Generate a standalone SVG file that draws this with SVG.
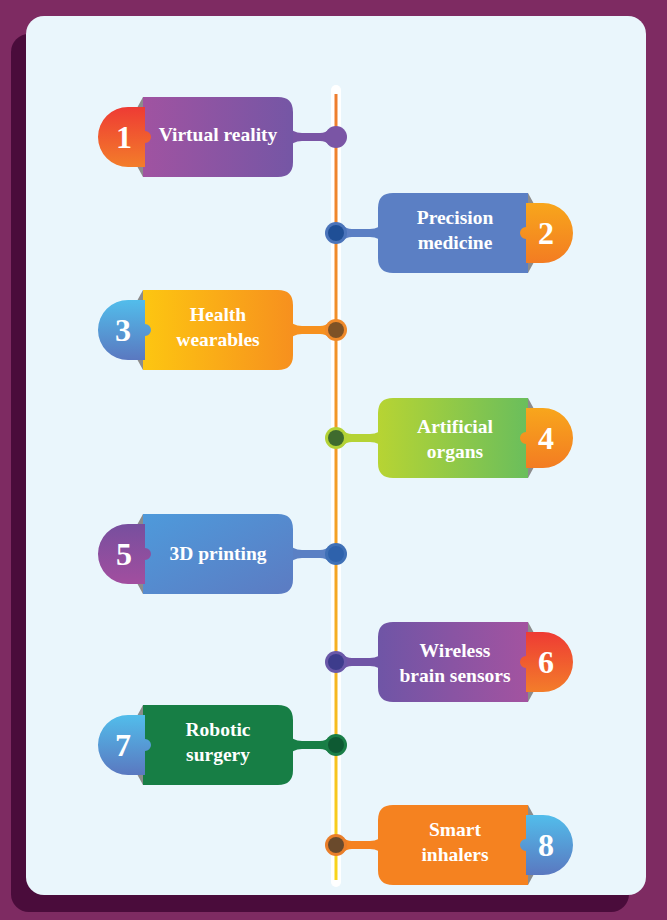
<svg xmlns="http://www.w3.org/2000/svg" width="667" height="920" viewBox="0 0 667 920">
<defs>
<linearGradient id="gPurpleL" x1="0" y1="0" x2="1" y2="0"><stop offset="0" stop-color="#A053A1"/><stop offset="1" stop-color="#7556A5"/></linearGradient>
<linearGradient id="gPurpleR" x1="0" y1="0" x2="1" y2="0"><stop offset="0" stop-color="#6F55A6"/><stop offset="1" stop-color="#A353A0"/></linearGradient>
<linearGradient id="gRed" x1="0" y1="0" x2="0" y2="1"><stop offset="0" stop-color="#EE3B34"/><stop offset="1" stop-color="#F37D2A"/></linearGradient>
<linearGradient id="gOrangeNum" x1="0" y1="0" x2="0" y2="1"><stop offset="0" stop-color="#F8A61C"/><stop offset="1" stop-color="#F37C22"/></linearGradient>
<linearGradient id="gBlueNum" x1="0" y1="0" x2="0" y2="1"><stop offset="0" stop-color="#52BDEB"/><stop offset="1" stop-color="#5A78C0"/></linearGradient>
<linearGradient id="gPurpleNum" x1="0" y1="0" x2="0" y2="1"><stop offset="0" stop-color="#774F9E"/><stop offset="1" stop-color="#A24E9F"/></linearGradient>
<linearGradient id="gYellow" x1="0" y1="0" x2="1" y2="0"><stop offset="0" stop-color="#FDC611"/><stop offset="1" stop-color="#F7901E"/></linearGradient>
<linearGradient id="gGreen" x1="0" y1="0" x2="1" y2="0"><stop offset="0" stop-color="#B7D433"/><stop offset="1" stop-color="#6ABE5C"/></linearGradient>
<linearGradient id="gBlueCard" x1="0" y1="0" x2="1" y2="1"><stop offset="0" stop-color="#4E9ADB"/><stop offset="1" stop-color="#5C7BC2"/></linearGradient>
<linearGradient id="gLine" x1="0" y1="0" x2="0" y2="1"><stop offset="0" stop-color="#EE7D2E"/><stop offset="0.6" stop-color="#F4A323"/><stop offset="1" stop-color="#F8D51B"/></linearGradient>
</defs>
<style>
.lbl{font-family:"Liberation Serif","DejaVu Serif",serif;font-weight:bold;font-size:19.5px;fill:#FFFFFF;text-anchor:middle}
.num{font-family:"Liberation Serif","DejaVu Serif",serif;font-weight:bold;font-size:32px;fill:#FFFFFF;text-anchor:middle}
.fold{fill:#8C8C8C}
</style>
<rect x="0" y="0" width="667" height="920" fill="#7E2B62"/>
<rect x="11" y="34" width="618" height="878" rx="18" fill="#4A0C3B"/>
<rect x="26" y="16" width="620" height="879" rx="18" fill="#EAF6FC"/>

<g id="timeline">
<rect x="331" y="85" width="10" height="802" rx="5" fill="#FFFFFF"/>
<rect x="334.5" y="94" width="3" height="786" fill="url(#gLine)"/>
</g>

<g id="connectors">
<g transform="translate(0,137)"><path d="M288,-12 Q292,-4 302,-4 L320,-4 Q326,-4 329,-8 L329,8 Q326,4 320,4 L302,4 Q292,4 288,12 Z" fill="#7A55A5"/><circle cx="336" cy="0" r="11" fill="#7A55A5"/></g>
<g transform="translate(672,233) scale(-1,1)"><path d="M288,-12 Q292,-4 302,-4 L320,-4 Q326,-4 329,-8 L329,8 Q326,4 320,4 L302,4 Q292,4 288,12 Z" fill="#5B7FC4"/><circle cx="336" cy="0" r="11" fill="#4B74BA"/><circle cx="336" cy="0" r="8" fill="#1F4F96"/></g>
<g transform="translate(0,330)"><path d="M288,-12 Q292,-4 302,-4 L320,-4 Q326,-4 329,-8 L329,8 Q326,4 320,4 L302,4 Q292,4 288,12 Z" fill="#F7911E"/><circle cx="336" cy="0" r="11" fill="#F08A2A"/><circle cx="336" cy="0" r="8" fill="#7E5226"/></g>
<g transform="translate(672,438) scale(-1,1)"><path d="M288,-12 Q292,-4 302,-4 L320,-4 Q326,-4 329,-8 L329,8 Q326,4 320,4 L302,4 Q292,4 288,12 Z" fill="#B5D335"/><circle cx="336" cy="0" r="11" fill="#B3D236"/><circle cx="336" cy="0" r="8" fill="#3F6B2E"/></g>
<g transform="translate(0,554)"><path d="M288,-12 Q292,-4 302,-4 L320,-4 Q326,-4 329,-8 L329,8 Q326,4 320,4 L302,4 Q292,4 288,12 Z" fill="#5A80C4"/><circle cx="336" cy="0" r="11" fill="#3F70B6"/><circle cx="336" cy="0" r="8" fill="#2E62AC"/></g>
<g transform="translate(672,662) scale(-1,1)"><path d="M288,-12 Q292,-4 302,-4 L320,-4 Q326,-4 329,-8 L329,8 Q326,4 320,4 L302,4 Q292,4 288,12 Z" fill="#7055A6"/><circle cx="336" cy="0" r="11" fill="#6A58A8"/><circle cx="336" cy="0" r="8" fill="#3D3C8C"/></g>
<g transform="translate(0,745)"><path d="M288,-12 Q292,-4 302,-4 L320,-4 Q326,-4 329,-8 L329,8 Q326,4 320,4 L302,4 Q292,4 288,12 Z" fill="#177E45"/><circle cx="336" cy="0" r="11" fill="#1A7E47"/><circle cx="336" cy="0" r="8" fill="#0E5A33"/></g>
<g transform="translate(672,845) scale(-1,1)"><path d="M288,-12 Q292,-4 302,-4 L320,-4 Q326,-4 329,-8 L329,8 Q326,4 320,4 L302,4 Q292,4 288,12 Z" fill="#F58220"/><circle cx="336" cy="0" r="11" fill="#E97E2A"/><circle cx="336" cy="0" r="8" fill="#6A4A2C"/></g>
</g>

<g id="item1" transform="translate(0,137)">
<polygon class="fold" points="143,-40 143,-29 137,-29"/><polygon class="fold" points="143,40 143,29 137,29"/>
<path d="M143,-40 H278 Q293,-40 293,-25 V25 Q293,40 278,40 H143 Z" fill="url(#gPurpleL)"/>
<path d="M145,-30 H128 A30,30 0 0 0 128,30 H145 V6 A6,6 0 0 0 145,-6 Z" fill="url(#gRed)"/>
<text class="num" x="124" y="11">1</text>
<text class="lbl" x="218" y="4">Virtual reality</text>
</g>

<g id="item2" transform="translate(0,233)">
<polygon class="fold" points="528,-40 528,-29 534,-29"/><polygon class="fold" points="528,40 528,29 534,29"/>
<path d="M528,-40 H393 Q378,-40 378,-25 V25 Q378,40 393,40 H528 Z" fill="#5B7FC4"/>
<path d="M526,-30 H543 A30,30 0 0 1 543,30 H526 V6 A6,6 0 0 1 526,-6 Z" fill="url(#gOrangeNum)"/>
<text class="num" x="546" y="11">2</text>
<text class="lbl" x="455" y="-9">Precision</text><text class="lbl" x="455" y="16">medicine</text>
</g>

<g id="item3" transform="translate(0,330)">
<polygon class="fold" points="143,-40 143,-29 137,-29"/><polygon class="fold" points="143,40 143,29 137,29"/>
<path d="M143,-40 H278 Q293,-40 293,-25 V25 Q293,40 278,40 H143 Z" fill="url(#gYellow)"/>
<path d="M145,-30 H128 A30,30 0 0 0 128,30 H145 V6 A6,6 0 0 0 145,-6 Z" fill="url(#gBlueNum)"/>
<text class="num" x="123" y="11">3</text>
<text class="lbl" x="218" y="-9">Health</text><text class="lbl" x="218" y="16">wearables</text>
</g>

<g id="item4" transform="translate(0,438)">
<polygon class="fold" points="528,-40 528,-29 534,-29"/><polygon class="fold" points="528,40 528,29 534,29"/>
<path d="M528,-40 H393 Q378,-40 378,-25 V25 Q378,40 393,40 H528 Z" fill="url(#gGreen)"/>
<path d="M526,-30 H543 A30,30 0 0 1 543,30 H526 V6 A6,6 0 0 1 526,-6 Z" fill="url(#gOrangeNum)"/>
<text class="num" x="546" y="11">4</text>
<text class="lbl" x="455" y="-5">Artificial</text><text class="lbl" x="455" y="20">organs</text>
</g>

<g id="item5" transform="translate(0,554)">
<polygon class="fold" points="143,-40 143,-29 137,-29"/><polygon class="fold" points="143,40 143,29 137,29"/>
<path d="M143,-40 H278 Q293,-40 293,-25 V25 Q293,40 278,40 H143 Z" fill="url(#gBlueCard)"/>
<path d="M145,-30 H128 A30,30 0 0 0 128,30 H145 V6 A6,6 0 0 0 145,-6 Z" fill="url(#gPurpleNum)"/>
<text class="num" x="124" y="11">5</text>
<text class="lbl" x="218" y="6">3D printing</text>
</g>

<g id="item6" transform="translate(0,662)">
<polygon class="fold" points="528,-40 528,-29 534,-29"/><polygon class="fold" points="528,40 528,29 534,29"/>
<path d="M528,-40 H393 Q378,-40 378,-25 V25 Q378,40 393,40 H528 Z" fill="url(#gPurpleR)"/>
<path d="M526,-30 H543 A30,30 0 0 1 543,30 H526 V6 A6,6 0 0 1 526,-6 Z" fill="url(#gRed)"/>
<text class="num" x="546" y="11">6</text>
<text class="lbl" x="455" y="-5">Wireless</text><text class="lbl" x="455" y="20">brain sensors</text>
</g>

<g id="item7" transform="translate(0,745)">
<polygon class="fold" points="143,-40 143,-29 137,-29"/><polygon class="fold" points="143,40 143,29 137,29"/>
<path d="M143,-40 H278 Q293,-40 293,-25 V25 Q293,40 278,40 H143 Z" fill="#177E45"/>
<path d="M145,-30 H128 A30,30 0 0 0 128,30 H145 V6 A6,6 0 0 0 145,-6 Z" fill="url(#gBlueNum)"/>
<text class="num" x="123" y="11">7</text>
<text class="lbl" x="218" y="-9">Robotic</text><text class="lbl" x="218" y="16">surgery</text>
</g>

<g id="item8" transform="translate(0,845)">
<polygon class="fold" points="528,-40 528,-29 534,-29"/><polygon class="fold" points="528,40 528,29 534,29"/>
<path d="M528,-40 H393 Q378,-40 378,-25 V25 Q378,40 393,40 H528 Z" fill="#F58220"/>
<path d="M526,-30 H543 A30,30 0 0 1 543,30 H526 V6 A6,6 0 0 1 526,-6 Z" fill="url(#gBlueNum)"/>
<text class="num" x="546" y="11">8</text>
<text class="lbl" x="455" y="-9">Smart</text><text class="lbl" x="455" y="16">inhalers</text>
</g>
</svg>
